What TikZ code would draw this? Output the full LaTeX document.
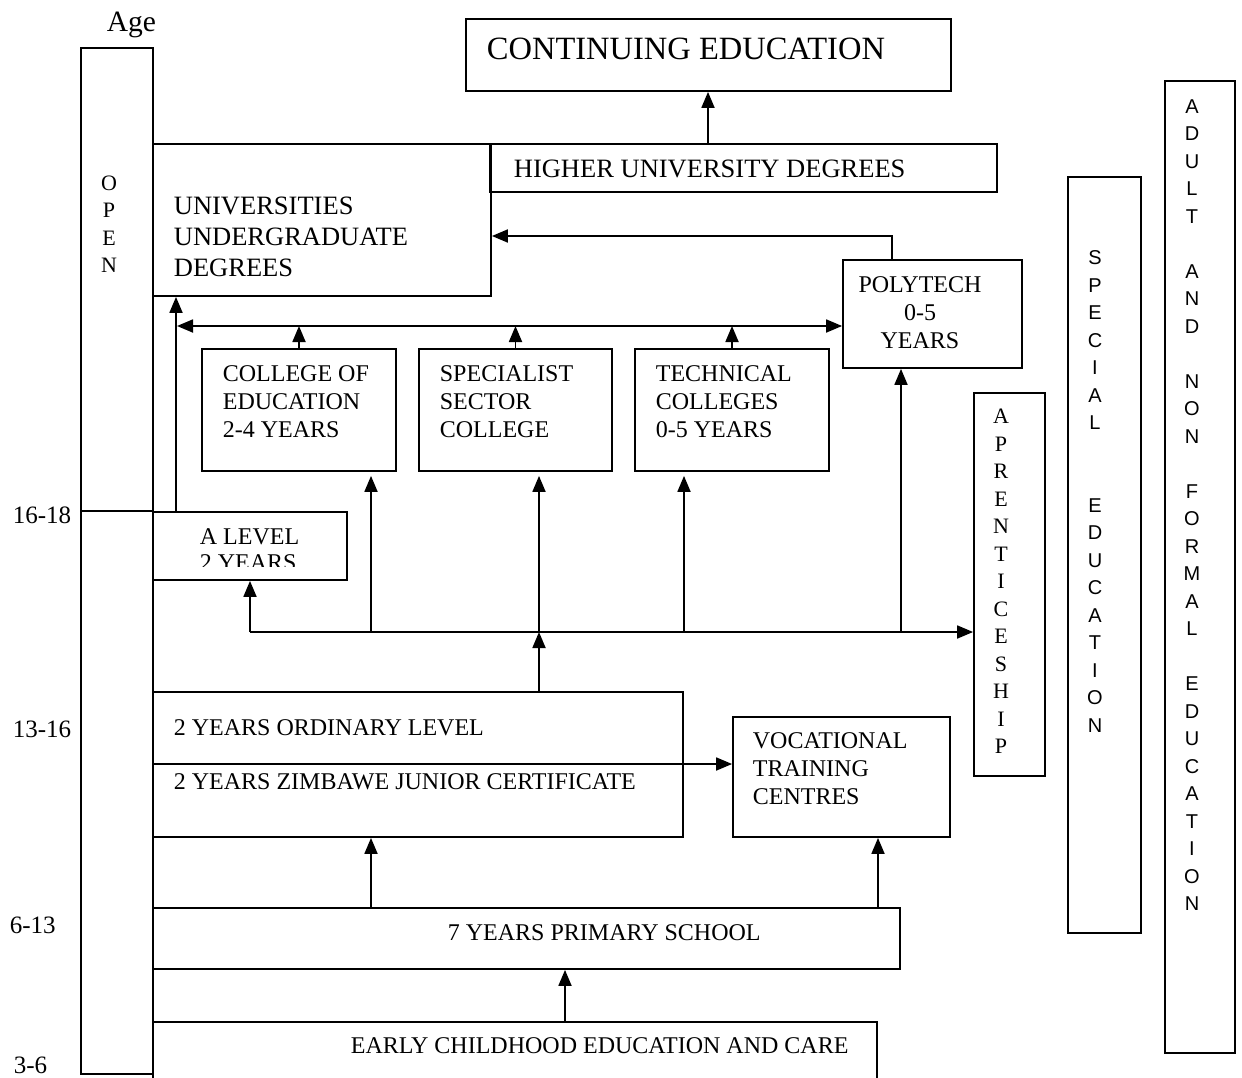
\documentclass[tikz,border=0pt]{standalone}
\usepackage{fontspec}
\setmainfont{Liberation Serif}
\newfontfamily\sansletters{Liberation Sans}
\usepackage{tikz}
\usetikzlibrary{arrows.meta,fit,calc}

\tikzset{
  box/.style={draw, inner sep=0pt},
  lbl/.style={inner sep=0pt, align=left, font=\fontsize{24}{28}\selectfont},
  biglbl/.style={lbl, font=\fontsize{26.5}{31}\selectfont},
  agelbl/.style={inner sep=0pt, anchor=base west, font=\fontsize{25}{28}\selectfont},
  vlbl/.style={inner sep=0pt, align=center, anchor=north, font=\fontsize{22}{27.5}\selectfont},
  vsans/.style={inner sep=0pt, align=center, anchor=north, font=\sansletters\fontsize{20}{27.5}\selectfont},
}

\begin{document}
\begin{tikzpicture}[x=1pt, y=-1pt, line width=1.8pt, >={Triangle[length=16pt,width=13pt]}]
  \useasboundingbox (0,0) rectangle (1242,1078);

  % age column
  \node[agelbl, font=\fontsize{29.5}{32}\selectfont] (age) at (106,32) {Age};
  \node[agelbl] (a1) at (12,523) {16-18};
  \node[agelbl] (a2) at (12,737) {13-16};
  \node[agelbl] (a3) at (9,933) {6-13};
  \node[agelbl] (a4) at (13,1073) {3-6};

  \node[box, fit={(81,48) (153,1074)}] (open) {};
  \node[vlbl] (opent) at (109,175) {O\\P\\E\\N};

  % top
  \node[box, fit={(466,19) (951,91)}] (cont) {};
  \node[inner sep=0pt, anchor=base west, font=\fontsize{32.5}{36}\selectfont] (contt) at (486,60) {CONTINUING EDUCATION};
  \node[box, fit={(490,144) (997,192)}] (higher) {};
  \node[biglbl, anchor=base west] (highert) at (513,178) {HIGHER UNIVERSITY DEGREES};
  \node[box, fit={(153,144) (491,296)}] (univ) {};
  \node[biglbl, anchor=north west] (univt) at (173,196.5) {UNIVERSITIES\\UNDERGRADUATE\\DEGREES};
  \node[box, fit={(843,260) (1022,368)}] (poly) {};
  \node[lbl, align=center, anchor=north] (polyt) at (920,276) {POLYTECH\\0-5\\YEARS};

  % colleges
  \foreach \n/\l/\r/\t in {coe/202/396/{COLLEGE OF\\EDUCATION\\2-4 YEARS},
                           spec/419/612/{SPECIALIST\\SECTOR\\COLLEGE},
                           tech/635/829/{TECHNICAL\\COLLEGES\\0-5 YEARS}} {
    \node[box, fit={(\l,349) (\r,471)}] (\n) {};
    \node[lbl, anchor=north west] (\n t) at (\l+20,365) {\t};
  }

  % a level
  \node[box, fit={(153,512) (347,580)}] (alev) {};
  \coordinate (cut) at (347,566);
  \begin{scope}
    \clip (alev.north west) rectangle (cut);
    \node[lbl, anchor=north west, font=\fontsize{24}{26}\selectfont] (alevt) at (199,528) {A LEVEL\\2 YEARS};
  \end{scope}

  % side columns
  \node[box, fit={(974,393) (1045,776)}] (appr) {};
  \node[vlbl] (apprt) at (1001,408.5) {A\\P\\R\\E\\N\\T\\I\\C\\E\\S\\H\\I\\P};
  \node[box, fit={(1068,177) (1141,933)}] (sped) {};
  \node[vsans] (spedt) at (1095,249.7) {S\\P\\E\\C\\I\\A\\L\\~\\~\\E\\D\\U\\C\\A\\T\\I\\O\\N};
  \node[box, fit={(1165,81) (1235,1053)}] (adult) {};
  \node[vsans] (adultt) at (1192,98.7) {A\\D\\U\\L\\T\\~\\A\\N\\D\\~\\N\\O\\N\\~\\F\\O\\R\\M\\A\\L\\~\\E\\D\\U\\C\\A\\T\\I\\O\\N};

  % lower levels
  \node[box, fit={(153,692) (683,837)}] (olev) {};
  \node[lbl, anchor=base west] (olevt) at (173,735) {2 YEARS ORDINARY LEVEL};
  \node[lbl, anchor=base west] (zjct) at (173,789) {2 YEARS ZIMBAWE JUNIOR CERTIFICATE};
  \node[box, fit={(733,717) (950,837)}] (voc) {};
  \node[lbl, anchor=north west] (voct) at (752,732) {VOCATIONAL\\TRAINING\\CENTRES};
  \node[box, fit={(153,908) (900,969)}] (prim) {};
  \node[lbl, anchor=base west] (primt) at (447,940) {7 YEARS PRIMARY SCHOOL};
  \node[box, fit={(153,1022) (877,1084)}] (ecce) {};
  \node[lbl, anchor=base west] (eccet) at (350,1053) {EARLY CHILDHOOD EDUCATION AND CARE};

  \coordinate (xc) at (708,0);
  \coordinate (pj) at (892,236);
  \coordinate (dl) at (177,326);
  \coordinate (xa) at (176,0);
  \coordinate (bus) at (250,632);
  \coordinate (bA) at (371,632);
  \coordinate (bB) at (539,632);
  \coordinate (bC) at (684,632);
  \coordinate (bD) at (901,632);
  \coordinate (dv) at (153,764);
  \coordinate (pB) at (878,0);
  \coordinate (pC) at (565,0);

  \draw (open.west |- alev.north) -- (alev.north west);

  \begin{scope}[->]
    \draw (higher.north -| xc) -- (cont.south -| xc);
    \draw (poly.north -| pj) -- (pj) -- (univ.east |- pj);
    \draw[<->] (dl) -- (poly.west |- dl);
    \draw (alev.north -| xa) -- (univ.south -| xa);
    \draw (coe.north) -- (coe.north |- dl);
    \draw (spec.north) -- (spec.north |- dl);
    \draw (tech.north) -- (tech.north |- dl);
    \draw (bus) -- (alev.south -| bus);
    \draw (bus) -- (appr.west |- bus);
    \draw[shorten >=4pt] (bA) -- (coe.south -| bA);
    \draw[shorten >=4pt] (bB) -- (spec.south -| bB);
    \draw[shorten >=4pt] (bC) -- (tech.south -| bC);
    \draw (bD) -- (poly.south -| bD);
    \draw (olev.north -| bB) -- (bB);
    \draw (dv) -- (voc.west |- dv);
    \draw (prim.north -| bA) -- (olev.south -| bA);
    \draw (prim.north -| pB) -- (voc.south -| pB);
    \draw (ecce.north -| pC) -- (prim.south -| pC);
  \end{scope}
\end{tikzpicture}
\end{document}
